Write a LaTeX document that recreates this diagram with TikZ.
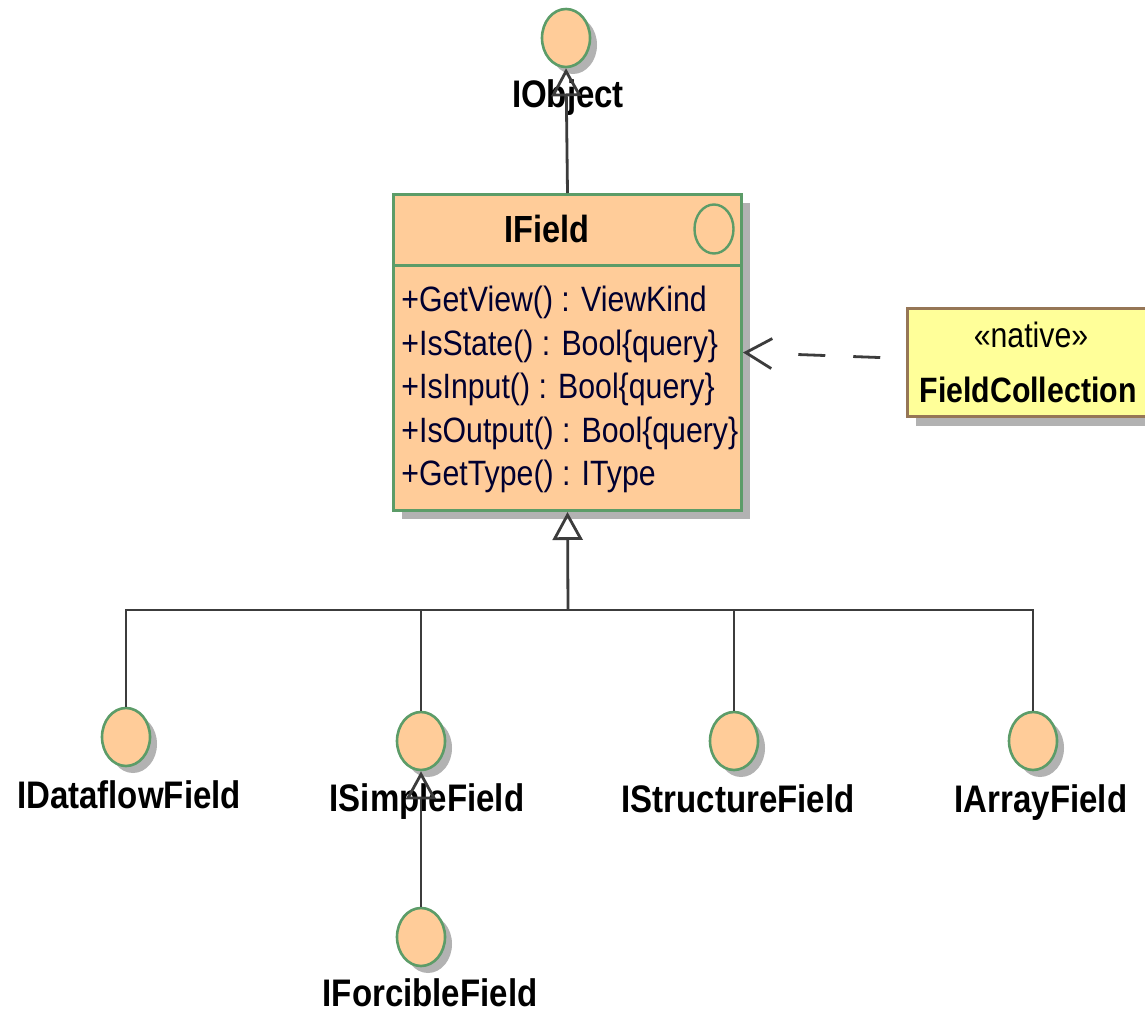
\documentclass[tikz,border=0pt]{standalone}
\usepackage{fontspec}
\setmainfont[FakeStretch=0.86]{Liberation Sans}
\usepackage{xcolor}
\usepackage{tikz}
\usetikzlibrary{arrows.meta,positioning,shapes.geometric,shadows}

\definecolor{peach}{RGB}{255,204,153}
\definecolor{umlgreen}{RGB}{92,156,104}
\definecolor{shadowgray}{RGB}{178,178,178}
\definecolor{noteyellow}{RGB}{255,255,153}
\definecolor{notebrown}{RGB}{150,118,86}
\definecolor{linegray}{RGB}{60,60,60}
\definecolor{opnavy}{RGB}{0,0,48}

\begin{document}
\begin{tikzpicture}[x=0.5pt, y=-0.5pt,
    every node/.style={inner sep=0pt},
    iface/.style={ellipse, draw=umlgreen, line width=1.3pt, fill=peach,
        minimum width=24pt, minimum height=29pt,
        general shadow={fill=shadowgray, draw=none, shadow xshift=3.5pt, shadow yshift=-3.5pt}},
    ifacelabel/.style={font=\fontsize{19.2}{22}\selectfont\bfseries, anchor=base},
    oper/.style={font=\fontsize{17.6}{21}\selectfont, text=opnavy, anchor=base west},
    conn/.style={draw=linegray, line width=1.4pt},
    realize/.style={conn, -{Triangle[open, length=14pt, width=15pt]}},
    usage/.style={conn, -{Straight Barb[length=13pt, width=15pt]},
        dash pattern=on 13.5pt off 14pt on 13.5pt off 60pt, dash phase=88pt}]
    \useasboundingbox (0,0) rectangle (1145,1011);
    \fill[white] (0,0) rectangle (1145,1011);
    \clip (0,0) rectangle (1145,1011);

    % IField class
    \node[draw=umlgreen, line width=1.5pt, fill=peach, minimum width=174pt, minimum height=158pt,
        general shadow={fill=shadowgray, draw=none, shadow xshift=4pt, shadow yshift=-4pt}]
        (ifield) at (567.5,352.5) {};
    \coordinate (hdr) at (0,265);
    \draw[umlgreen, line width=1.5pt] (ifield.west |- hdr) -- (ifield.east |- hdr);
    \node[ellipse, draw=umlgreen, line width=1.2pt, minimum width=19.5pt, minimum height=24.5pt] (stereo) at (714,229) {};
    \node[font=\fontsize{18.9}{22}\selectfont\bfseries, anchor=base] (title) at (547,242) {IField};

    % Operations
    \node[oper] (op1) at (401,311) {+GetView() : ViewKind};
    \node[oper] (op2) at (401,355) {+IsState() : Bool\{query\}};
    \node[oper] (op3) at (401,398) {+IsInput() : Bool\{query\}};
    \node[oper] (op4) at (401,442) {+IsOutput() : Bool\{query\}};
    \node[oper] (op5) at (401,485) {+GetType() : IType};

    % Native collection
    \node[draw=notebrown, line width=1.3pt, fill=noteyellow, minimum width=123pt, minimum height=54pt,
        general shadow={fill=shadowgray, draw=none, shadow xshift=4pt, shadow yshift=-4.5pt}]
        (fcoll) at (1030.5,362.5) {};
    \node[font=\fontsize{17.6}{21}\selectfont, anchor=base] (stereotype) at (1031,347) {«native»};
    \node[font=\fontsize{17.6}{21}\selectfont\bfseries, anchor=base] (fcname) at (1028,402) {FieldCollection};

    % Interfaces
    \node[iface] (iobject) at (566,38) {};
    \node[iface] (idataflow) at (126,737) {};
    \node[iface] (isimple) at (421,741) {};
    \node[iface] (iforcible) at (421,937) {};
    \node[iface] (istructure) at (734,741) {};
    \node[iface] (iarray) at (1033,741) {};

    \node[ifacelabel] (lobject) at (568,108) {IObject};
    \node[ifacelabel] (ldataflow) at (129,808) {IDataflowField};
    \node[ifacelabel] (lsimple) at (427,811) {ISimpleField};
    \node[ifacelabel] (lforcible) at (430,1006) {IForcibleField};
    \node[ifacelabel] (lstructure) at (738,812) {IStructureField};
    \node[ifacelabel] (larray) at (1041,812) {IArrayField};

    % Connectors
    \draw[realize] (ifield.north) -- (iobject.south);
    \coordinate (bus) at (568,610);
    \draw[realize] (bus) -- (ifield.south);
    \draw[conn] (idataflow.north) |- (bus) -| (iarray.north);
    \draw[conn] (isimple.north) -- (isimple.north |- bus);
    \draw[conn] (istructure.north) -- (istructure.north |- bus);
    \draw[realize] (iforcible.north) -- (isimple.south);
    \draw[usage] ([yshift=2pt]fcoll.west) -- (ifield.east);
\end{tikzpicture}
\end{document}
